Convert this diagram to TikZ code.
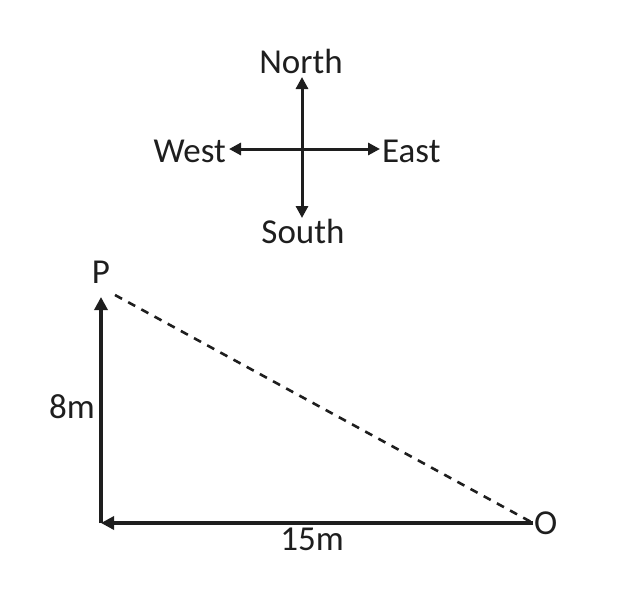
\documentclass[tikz,border=0pt]{standalone}
\usepackage{fontspec}
\setmainfont{Carlito}
\usetikzlibrary{arrows.meta}
\definecolor{figK}{RGB}{30,30,30}
\tikzset{lbl/.style={font=\fontsize{35}{37}\selectfont, text=figK, inner sep=1pt},
  dirarr/.style={-{Triangle[length=12pt,width=12pt]}, line width=3pt, figK},
  walkarr/.style={-{Triangle[length=13pt,width=13pt]}, line width=3.4pt, figK}}

\begin{document}
\begin{tikzpicture}[x=1pt, y=-1pt]
\useasboundingbox (0,0) rectangle (622,592);
% compass
\coordinate (c) at (302,149);
\node[lbl, anchor=base] (north) at (301,73) {North};
\node[lbl, anchor=base] (south) at (303,243) {South};
\node[lbl, anchor=base east] (west) at (227,162) {West};
\node[lbl, anchor=base west] (east) at (381,162) {East};
\coordinate (ntip) at (302,77);
\coordinate (stip) at (302,218);
\coordinate (wtip) at (229,149);
\coordinate (etip) at (380,149);
\draw[dirarr] (c) -- (ntip);
\draw[dirarr] (c) -- (stip);
\draw[dirarr] (c) -- (wtip);
\draw[dirarr] (c) -- (etip);
% walk: O to corner, then up to P
\coordinate (a) at (101,523);
\coordinate (ptip) at (101,297);
\node[lbl, anchor=base] (P) at (101,283) {P};
\node[lbl, anchor=west] (O) at (533,523) {O};
\draw[walkarr] (O.west) -- (a);
\draw[walkarr] (a) -- (ptip);
% straight line back
\draw[figK, line width=2.6pt, dash pattern=on 8pt off 7pt] (115,295) -- (O.west);
\node[lbl, anchor=base east] (len8) at (96,418) {8m};
\node[lbl, anchor=base] (len15) at (312,550) {15m};
\end{tikzpicture}
\end{document}
